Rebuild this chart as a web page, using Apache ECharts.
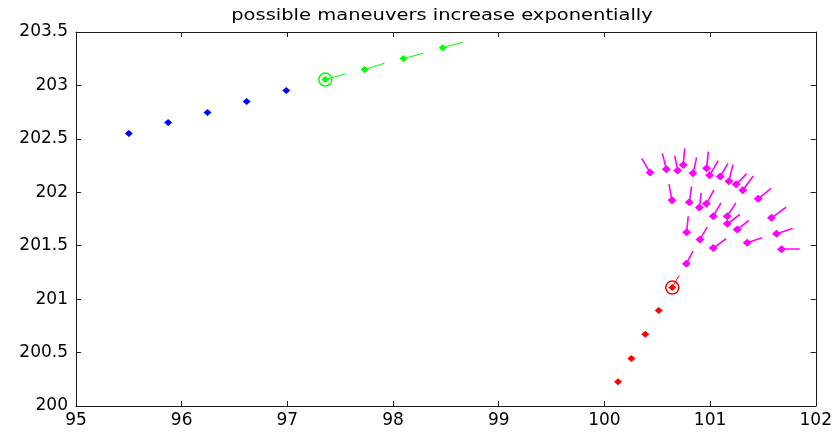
<!DOCTYPE html>
<html>
<head>
<meta charset="utf-8">
<script src="https://cdn.jsdelivr.net/npm/echarts@6/dist/echarts.min.js"></script>
<style>
html,body{margin:0;padding:0;background:#fff;}
#c{width:835px;height:433px;}
</style>
</head>
<body>
<div id="c"></div>
<script>
// ---- data ----
const titleText = 'possible maneuvers increase exponentially';
const xTicks = [95, 96, 97, 98, 99, 100, 101, 102];
const yTicks = [200, 200.5, 201, 201.5, 202, 202.5, 203, 203.5];

const blueX = [95.500, 95.872, 96.244, 96.615, 96.990];
const blueY = [202.551, 202.653, 202.747, 202.850, 202.952];

const greenX = [97.359, 97.730, 98.098, 98.470];
const greenY = [203.055, 203.148, 203.251, 203.353];
const greenTailX = [97.548, 97.919, 98.287, 98.659];
const greenTailY = [203.108, 203.208, 203.301, 203.404];

const redX = [100.129, 100.255, 100.387, 100.514, 100.642];
const redY = [200.227, 200.445, 200.672, 200.893, 201.108];
const redTailX = [100.706];
const redTailY = [201.223];

const magX = [100.432,100.586,100.693,100.746,100.838,100.967,100.996,101.096,101.178,101.247,101.310,101.455,
              100.640,100.803,100.898,100.964,101.030,101.162,101.162,101.257,101.581,
              100.778,100.904,101.030,101.351,101.628,101.676,100.775];
const magY = [202.184,202.215,202.205,202.256,202.177,202.224,202.159,202.147,202.103,202.075,202.019,201.939,
              201.925,201.907,201.857,201.892,201.776,201.776,201.705,201.652,201.761,
              201.627,201.559,201.478,201.528,201.612,201.468,201.332];
const magTailX = [100.353,100.548,100.665,100.760,100.873,100.983,101.077,101.169,101.216,101.345,101.408,101.578,
                  100.611,100.825,100.916,101.037,101.103,101.244,101.282,101.367,101.719,
                  100.793,100.973,101.152,101.493,101.782,101.849,100.838];
const magTailY = [202.317,202.364,202.343,202.411,202.327,202.380,202.296,202.271,202.259,202.172,202.153,202.037,
                  202.075,202.056,201.994,202.022,201.901,201.901,201.792,201.736,201.860,
                  201.776,201.674,201.565,201.575,201.661,201.468,201.449];

// ---- build ----
const pts = (xs, ys) => xs.map((x, i) => [x, ys[i]]);
const segs = (xs, ys, tx, ty, offset) => tx.map((t, i) => ({coords: [[xs[i + offset], ys[i + offset]], [t, ty[i]]]}));

const chart = echarts.init(document.getElementById('c'), null, {renderer: 'canvas'});
const font = 'DejaVu Sans';
const axisCommon = {
  type: 'value', interval: 1, min: 95, max: 102,
  axisLine: {show: true, lineStyle: {color: '#1a1a1a', width: 1}},
  axisTick: {show: true, inside: true, length: 5, lineStyle: {color: '#1a1a1a'}},
  splitLine: {show: false}
};
const lineSeries = (data, color, w) => ({
  type: 'lines', coordinateSystem: 'cartesian2d', polyline: false, silent: true,
  lineStyle: {color: color, width: w, opacity: 1}, data: data, z: 3
});
const dotSeries = (data, color, size) => ({
  type: 'scatter', data: data, symbol: 'diamond', symbolSize: size || [8, 7],
  itemStyle: {color: color, opacity: 1}, silent: true, z: 4
});
const ringSeries = (data, color) => ({
  type: 'scatter', data: data, symbol: 'circle', symbolSize: 13,
  itemStyle: {color: 'rgba(0,0,0,0)', borderColor: color, borderWidth: 1.5, opacity: 1}, silent: true, z: 5
});

chart.setOption({
  animation: false,
  backgroundColor: '#fff',
  graphic: [{
    type: 'text', x: 442, y: 16, scaleX: 1.3, originX: 0, originY: 0,
    style: {text: titleText, fontFamily: font, fontSize: 15, fill: '#000',
      textAlign: 'center', textVerticalAlign: 'middle'}
  }],
  grid: {left: 76, right: 17, top: 32, bottom: 27, containLabel: false},
  xAxis: [
    Object.assign({}, axisCommon, {position: 'bottom',
      axisLabel: {show: true, fontFamily: font, fontSize: 17, color: '#000', margin: 6,
        formatter: v => xTicks.includes(v) ? String(v) : ''}}),
    Object.assign({}, axisCommon, {position: 'top', axisLabel: {show: false}})
  ],
  yAxis: [
    Object.assign({}, axisCommon, {min: 200, max: 203.5, interval: 0.5, position: 'left',
      axisLabel: {show: true, fontFamily: font, fontSize: 17, color: '#000', margin: 8,
        formatter: v => yTicks.includes(v) ? String(v) : ''}}),
    Object.assign({}, axisCommon, {min: 200, max: 203.5, interval: 0.5, position: 'right', axisLabel: {show: false}})
  ],
  series: [
    dotSeries(pts(blueX, blueY), '#0000ff'),
    lineSeries(segs(greenX, greenY, greenTailX, greenTailY, 0), '#00ff00', 1),
    dotSeries(pts(greenX, greenY), '#00ff00'),
    ringSeries([[greenX[0], greenY[0]]], '#00ff00'),
    lineSeries(segs(redX, redY, redTailX, redTailY, redX.length - 1), '#ff0000', 1),
    dotSeries(pts(redX, redY), '#ff0000'),
    ringSeries([[redX[redX.length - 1], redY[redY.length - 1]]], '#ff0000'),
    lineSeries(segs(magX, magY, magTailX, magTailY, 0), '#ff00ff', 1.6),
    dotSeries(pts(magX, magY), '#ff00ff', [9, 8])
  ]
});
</script>
</body>
</html>
